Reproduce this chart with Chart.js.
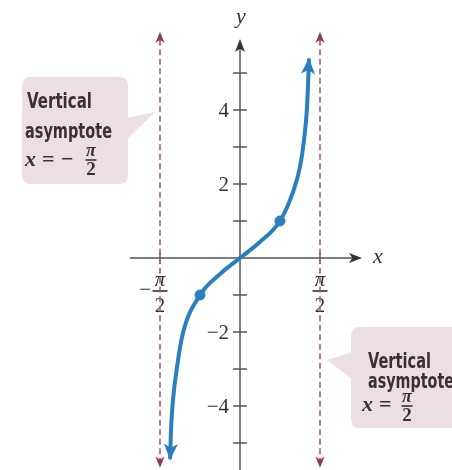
<!DOCTYPE html>
<html>
<head>
<meta charset="utf-8">
<script src="https://cdn.jsdelivr.net/npm/chart.js@4.4.0/dist/chart.umd.min.js"></script>
<style>
  html, body { margin: 0; padding: 0; background: #fff; }
  #wrap { width: 452px; height: 470px; }
</style>
</head>
<body>
<div id="wrap"><canvas id="tanChart" width="452" height="470"></canvas></div>
<script>
// y = tan x (x in radians)
var curveX = [-1.372, -1.355, -1.316, -1.237, -1.12, -0.785, -0.39, 0, 0.39, 0.785, 1.04, 1.178, 1.257, 1.316, 1.355];
var curveY = [-5.4, -4.65, -3.84, -2.95, -2.03, -1.0, -0.43, 0, 0.43, 1.0, 1.78, 2.46, 3.19, 4.08, 5.35];

// the two marked points (±π/4, ±1)
var markX = [-0.785, 0.785];
var markY = [-1, 1];

// vertical asymptotes x = ±π/2
var asymX = [-Math.PI / 2, Math.PI / 2];
var asymTop = 5.9;
var asymBottom = -5.45;

// axis ticks
var yTicks = [-5, -4, -3, -2, -1, 1, 2, 3, 4, 5];
var yTickLabels = { '4': '4', '2': '2', '-2': '\u22122', '-4': '\u22124' };
var xTicks = [-Math.PI / 2, Math.PI / 2];
var xTickSigns = ['\u2212', ''];

var BLUE = '#2b7fc0';
var ASYM = '#a65a80';
var AXIS = '#555';
var INK = '#3b3036';
var BOX = '#ebdfe5';

function pts(xs, ys) {
  return xs.map(function (x, i) { return { x: x, y: ys[i] }; });
}

function arrowHead(ctx, tipX, tipY, fromX, fromY, len, half, color) {
  var a = Math.atan2(tipY - fromY, tipX - fromX);
  ctx.save();
  ctx.translate(tipX, tipY);
  ctx.rotate(a);
  ctx.fillStyle = color;
  ctx.beginPath();
  ctx.moveTo(0, 0);
  ctx.lineTo(-len, -half);
  ctx.lineTo(-len * 0.75, 0);
  ctx.lineTo(-len, half);
  ctx.closePath();
  ctx.fill();
  ctx.restore();
}

// π over 2, centred on cx with the bar at lineY
function frac(ctx, cx, lineY, f) {
  ctx.save();
  ctx.textAlign = 'center';
  ctx.textBaseline = 'alphabetic';
  var w = f.bold ? 'bold ' : '';
  ctx.font = 'italic ' + w + f.pi + 'px "Liberation Serif", serif';
  ctx.fillText('\u03c0', cx, lineY - f.up);
  ctx.font = w + f.two + 'px "Liberation Serif", serif';
  ctx.fillText('2', cx, lineY + f.down);
  ctx.fillRect(cx - f.width / 2, lineY - 0.8, f.width, 1.6);
  ctx.restore();
}

function stretched(ctx, text, x, y, width) {
  var w = ctx.measureText(text).width;
  ctx.save();
  ctx.translate(x, y);
  ctx.scale(width / w, 1);
  ctx.fillText(text, 0, 0);
  ctx.restore();
}

function roundBox(ctx, x, y, w, h, r) {
  ctx.beginPath();
  ctx.moveTo(x + r, y);
  ctx.lineTo(x + w - r, y);
  ctx.quadraticCurveTo(x + w, y, x + w, y + r);
  ctx.lineTo(x + w, y + h - r);
  ctx.quadraticCurveTo(x + w, y + h, x + w - r, y + h);
  ctx.lineTo(x + r, y + h);
  ctx.quadraticCurveTo(x, y + h, x, y + h - r);
  ctx.lineTo(x, y + r);
  ctx.quadraticCurveTo(x, y, x + r, y);
  ctx.closePath();
}

var tickFrac = { pi: 21, two: 21, up: 5, down: 21, width: 15, bold: false };
var boxFrac = { pi: 18, two: 19, up: 4, down: 15, width: 11, bold: true };

// callouts, axes, ticks and labels drawn around the datasets
var decor = {
  id: 'decor',
  beforeDatasetsDraw: function (chart) {
    var ctx = chart.ctx;
    var xs = chart.scales.x, ys = chart.scales.y;
    var ox = xs.getPixelForValue(0), oy = ys.getPixelForValue(0);

    // callout boxes
    ctx.save();
    ctx.fillStyle = BOX;
    roundBox(ctx, 22, 77, 106, 107, 9);
    ctx.fill();
    ctx.beginPath();
    ctx.moveTo(126, 118); ctx.lineTo(155, 112); ctx.lineTo(126, 140);
    ctx.fill();
    roundBox(ctx, 351, 327, 120, 101, 9);
    ctx.fill();
    ctx.beginPath();
    ctx.moveTo(353, 352); ctx.lineTo(327, 360); ctx.lineTo(353, 380);
    ctx.fill();

    ctx.fillStyle = INK;
    ctx.font = 'bold 21px "Liberation Sans Narrow", "DejaVu Sans Condensed", sans-serif';
    ctx.textBaseline = 'alphabetic';
    ctx.textAlign = 'left';
    stretched(ctx, 'Vertical', 27, 108, 65);
    stretched(ctx, 'asymptote', 25, 138, 87);
    stretched(ctx, 'Vertical', 368, 368, 63);
    stretched(ctx, 'asymptote', 368, 388, 86);

    ctx.font = 'italic bold 22px "Liberation Serif", serif';
    ctx.fillText('x', 25, 166);
    ctx.fillText('x', 362, 411);
    ctx.font = 'bold 22px "Liberation Serif", serif';
    ctx.fillText('=', 42, 166);
    ctx.fillText('\u2212', 61, 166);
    ctx.fillText('=', 379, 411);
    frac(ctx, 91, 160, boxFrac);
    frac(ctx, 407, 406, boxFrac);
    ctx.restore();

    // axes
    ctx.save();
    ctx.strokeStyle = AXIS;
    ctx.lineWidth = 1.5;
    ctx.beginPath();
    ctx.moveTo(130, oy); ctx.lineTo(356, oy);
    ctx.moveTo(ox, 470); ctx.lineTo(ox, 46);
    ctx.stroke();
    arrowHead(ctx, 362, oy, 130, oy, 13, 5, '#333');
    arrowHead(ctx, ox, 39, ox, 470, 13, 5, '#333');

    ctx.lineWidth = 1.3;
    ctx.beginPath();
    yTicks.forEach(function (v) {
      var py = ys.getPixelForValue(v);
      ctx.moveTo(ox - 7, py); ctx.lineTo(ox + 7, py);
    });
    xTicks.forEach(function (v) {
      var px = xs.getPixelForValue(v);
      ctx.moveTo(px, oy - 6); ctx.lineTo(px, oy + 6);
    });
    ctx.stroke();

    ctx.fillStyle = '#333';
    ctx.font = '21px "Liberation Serif", serif';
    ctx.textAlign = 'right';
    ctx.textBaseline = 'middle';
    Object.keys(yTickLabels).forEach(function (k) {
      ctx.fillText(yTickLabels[k], ox - 11, ys.getPixelForValue(Number(k)) + 1);
    });
    xTicks.forEach(function (v, i) {
      var px = xs.getPixelForValue(v);
      if (xTickSigns[i]) {
        ctx.font = '21px "Liberation Serif", serif';
        ctx.textAlign = 'right';
        ctx.textBaseline = 'middle';
        ctx.fillText(xTickSigns[i], px - 9, oy + 32);
      }
      frac(ctx, px, oy + 33, tickFrac);
    });

    ctx.font = 'italic 22px "Liberation Serif", serif';
    ctx.textAlign = 'center';
    ctx.textBaseline = 'alphabetic';
    ctx.fillText('y', ox + 1, 23);
    ctx.fillText('x', 378, oy + 5);
    ctx.restore();
  },
  afterDatasetsDraw: function (chart) {
    var ctx = chart.ctx;
    var xs = chart.scales.x, ys = chart.scales.y;
    asymX.forEach(function (v) {
      var px = xs.getPixelForValue(v);
      var t = ys.getPixelForValue(asymTop), b = ys.getPixelForValue(asymBottom);
      arrowHead(ctx, px, t - 8, px, b, 11, 4.5, '#8e3b62');
      arrowHead(ctx, px, b + 8, px, t, 11, 4.5, '#8e3b62');
    });
    var n = curveX.length;
    var p = function (i) { return [xs.getPixelForValue(curveX[i]), ys.getPixelForValue(curveY[i])]; };
    var a = p(n - 1), a0 = p(n - 3);
    arrowHead(ctx, a[0], a[1] - 2, a0[0], a0[1], 16, 7, BLUE);
    var c = p(0), c0 = p(2);
    arrowHead(ctx, c[0], c[1] + 2, c0[0], c0[1], 16, 7, BLUE);
  }
};

var datasets = [{
  data: pts(curveX, curveY),
  showLine: true,
  borderColor: BLUE,
  borderWidth: 4,
  pointRadius: 0,
  cubicInterpolationMode: 'monotone',
  borderCapStyle: 'round'
}, {
  data: pts(markX, markY),
  pointRadius: 5,
  pointBackgroundColor: BLUE,
  pointBorderColor: BLUE
}];

asymX.forEach(function (v) {
  datasets.push({
    data: [{ x: v, y: asymTop }, { x: v, y: asymBottom }],
    showLine: true,
    borderColor: ASYM,
    borderWidth: 1.6,
    borderDash: [6, 3.5],
    pointRadius: 0
  });
});

new Chart(document.getElementById('tanChart'), {
  type: 'scatter',
  data: { datasets: datasets },
  options: {
    responsive: false,
    animation: false,
    layout: { padding: 0, autoPadding: false },
    scales: {
      x: { type: 'linear', display: false, min: -1.5 * Math.PI, max: 212 / 80 * Math.PI / 2 },
      y: { type: 'linear', display: false, min: -212 / 37, max: 258 / 37 }
    },
    plugins: { legend: { display: false }, tooltip: { enabled: false } }
  },
  plugins: [decor]
});
</script>
</body>
</html>
